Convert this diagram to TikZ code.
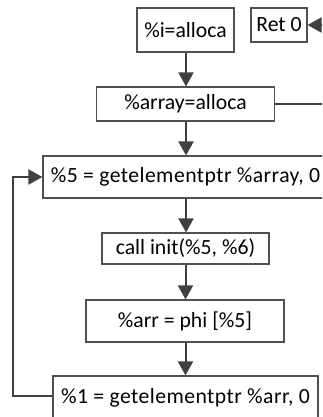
\documentclass[tikz,border=0pt]{standalone}
\usepackage{fontspec}
\setmainfont{Carlito}
\usetikzlibrary{arrows.meta}
\definecolor{linec}{HTML}{404040}
\definecolor{boxc}{HTML}{505050}
\begin{document}
\begin{tikzpicture}[x=1pt,y=-1pt,
  box/.style={draw=boxc,line width=1.1pt,fill=white,inner sep=0pt,align=center,
    font=\fontsize{21.7}{26}\selectfont,text=black},
  wide/.style={font=\fontsize{21.7}{26}\selectfont\addfontfeature{LetterSpace=2}},
  conn/.style={draw=linec,line width=2pt},
  arr/.style={conn,-{Triangle[length=14pt,width=15pt]}}]
\useasboundingbox (0,0) rectangle (322,417);
\clip (0,0) rectangle (322,417);
\node[box,minimum width=97pt,minimum height=44pt] (i) at (185.5,30) {\%i=alloca};
\node[box,minimum width=56pt,minimum height=34pt] (ret) at (279,25) {Ret 0};
\node[box,minimum width=178pt,minimum height=34pt] (array) at (185.5,104) {\%array=alloca};
\node[box,wide,minimum width=285pt,minimum height=42pt] (g5) at (185.5,177) {\%5 = getelementptr \%array, 0};
\node[box,minimum width=167pt,minimum height=31pt] (call) at (185.5,248.5) {call init(\%5, \%6)};
\node[box,minimum width=198pt,minimum height=42pt] (phi) at (185,321) {\%arr = phi [\%5]};
\node[box,wide,minimum width=265pt,minimum height=44pt] (g1) at (185.5,398) {\%1 = getelementptr \%arr, 0};
\coordinate (retin) at (345,25);
\coordinate (arrout) at (345,104);
\coordinate (lb) at (13,396);
\coordinate (lt) at (13,177);
\draw[arr] (i.south -| 186,0) -- (array.north -| 186,0);
\draw[arr] (array.south -| 186,0) -- (g5.north -| 186,0);
\draw[arr] (g5.south -| 186,0) -- (call.north -| 186,0);
\draw[arr] (call.south -| 185.5,0) -- (phi.north -| 185.5,0);
\draw[arr] (phi.south -| 185.5,0) -- (g1.north -| 185.5,0);
\draw[arr] (retin) -- (ret.east);
\draw[conn] (array.east) -- (arrout);
\draw[arr] (g1.west |- lb) -- (lb) -- (lt) -- (g5.west);
\end{tikzpicture}
\end{document}
